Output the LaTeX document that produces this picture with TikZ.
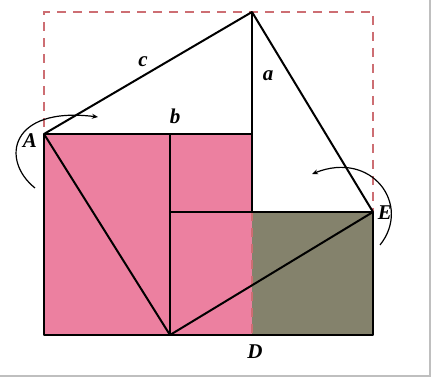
\documentclass[tikz,border=0pt]{standalone}
\usepackage{fontspec}
\setmainfont{Liberation Serif}
\usetikzlibrary{arrows.meta}
\definecolor{pinkfill}{RGB}{236,128,160}
\definecolor{olivefill}{RGB}{132,130,108}
\definecolor{dashred}{RGB}{205,110,115}
\tikzset{
  edge/.style={line width=2pt, black, line join=round},
  guide/.style={line width=1.4pt, dashred, dash pattern=on 9pt off 7pt},
  rot/.style={line width=1.2pt, black, -{Stealth[length=6pt,width=5pt]}},
  lab/.style={font=\fontsize{21}{21}\selectfont\bfseries\itshape, inner sep=0pt}
}
\begin{document}
\begin{tikzpicture}[x=1pt,y=-1pt]
\useasboundingbox (0,0) rectangle (434,379);
\fill[white] (0,0) rectangle (434,379);
% scan border
\draw[line width=1.5pt, black!25] (430,0) -- (430,376) -- (0,376);
% coordinates
\coordinate (T) at (252,12);
\coordinate (A) at (44,134);
\coordinate (R) at (252,134);
\coordinate (P) at (170,134);
\coordinate (Q) at (170,212);
\coordinate (M) at (252,212);
\coordinate (E) at (373,212);
\coordinate (BL) at (44,335);
\coordinate (Dv) at (170,335);
\coordinate (DB) at (252,335);
\coordinate (BR) at (373,335);
\coordinate (TL) at (44,12);
\coordinate (TR) at (373,12);
% fills
\fill[pinkfill] (A) rectangle (DB);
\fill[olivefill] (M) rectangle (BR);
% dashed guides
\draw[guide] (BL) -- (TL) -- (TR) -- (E);
\draw[guide] (M) -- (DB);
% solid edges
\draw[edge] (A) -- (T) -- (E);
\draw[edge] (T) -- (R) -- (A) -- (BL) -- (BR) -- (E) -- (Q);
\draw[edge] (R) -- (M);
\draw[edge] (P) -- (Dv);
\draw[edge] (A) -- (Dv) -- (E);
% rotation arrows
\coordinate (a1) at (35,188);
\coordinate (a2) at (98,117);
\draw[rot] (a1) .. controls (0,160) and (10,106) .. (a2);
\coordinate (e1) at (380,245);
\coordinate (e2) at (312,174);
\draw[rot] (e1) .. controls (412,205) and (372,150) .. (e2);
% labels
\node[lab] (lc) at (143,62) {c};
\node[lab] (la) at (268,76) {a};
\node[lab] (lb) at (175,116) {b};
\node[lab] (lA) at (30,141) {A};
\node[lab] (lE) at (385,213) {E};
\node[lab] (lD) at (255,352) {D};
\end{tikzpicture}
\end{document}
